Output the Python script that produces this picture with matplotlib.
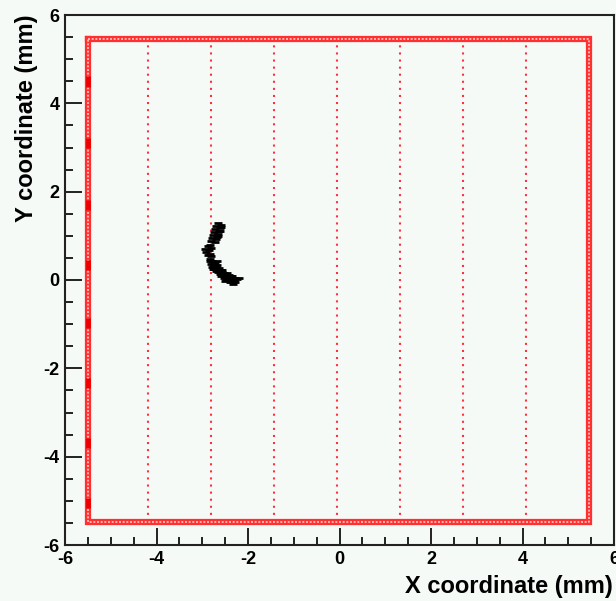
import matplotlib
matplotlib.use("Agg")
import matplotlib.pyplot as plt
from matplotlib.ticker import MultipleLocator

# Borde del detector (mm)
borde_x = [-5.49, 5.46, 5.46, -5.49, -5.49]
borde_y = [5.46, 5.46, -5.47, -5.47, 5.46]

# Lineas punteadas verticales (mm)
lineas_x = [-4.18, -2.80, -1.43, -0.05, 1.32, 2.70, 4.07]

# Segmentos oscuros en el borde izquierdo (centros en y)
segmentos_y = [4.49, 3.10, 1.70, 0.34, -0.97, -2.33, -3.69, -5.05]

# Puntos negros (trayectoria)
puntos_x = [-2.66, -2.60, -2.70, -2.62, -2.72, -2.64, -2.74, -2.66, -2.76, -2.68,
            -2.78, -2.70, -2.80, -2.72, -2.58, -2.62, -2.66,
            -2.82, -2.88, -2.80, -2.86, -2.92, -2.84, -2.88, -2.80, -2.95,
            -2.82, -2.78, -2.84, -2.76, -2.72, -2.80, -2.74, -2.68, -2.78, -2.70,
            -2.64, -2.74, -2.66, -2.60, -2.70, -2.62, -2.56, -2.66, -2.58, -2.52,
            -2.62, -2.54, -2.48, -2.42, -2.58, -2.50, -2.44, -2.38, -2.52, -2.46,
            -2.40, -2.34, -2.28, -2.48, -2.42, -2.36, -2.30, -2.24, -2.40, -2.34,
            -2.28, -2.20, -2.56, -2.46, -2.36, -2.68, -2.76, -2.50, -2.32]
puntos_y = [1.28, 1.25, 1.22, 1.18, 1.15, 1.12, 1.08, 1.05, 1.02, 0.98,
            0.95, 0.92, 0.88, 0.85, 1.20, 1.10, 1.00,
            0.80, 0.76, 0.72, 0.68, 0.64, 0.60, 0.56, 0.54, 0.70,
            0.48, 0.44, 0.42, 0.40, 0.38, 0.36, 0.34, 0.33, 0.30, 0.29,
            0.28, 0.26, 0.24, 0.23, 0.21, 0.20, 0.19, 0.17, 0.16, 0.15,
            0.13, 0.12, 0.11, 0.12, 0.09, 0.08, 0.07, 0.08, 0.05, 0.04,
            0.03, 0.04, 0.05, 0.01, 0.00, -0.01, 0.00, 0.02, -0.04, -0.05,
            -0.04, 0.04, 0.22, 0.16, 0.10, 0.42, 0.26, -0.02, -0.08]

fondo = '#f6faf7'
plt.rcParams['font.family'] = ['Liberation Sans', 'DejaVu Sans']
plt.rcParams['font.weight'] = 'bold'
plt.rcParams['axes.unicode_minus'] = False

fig = plt.figure(figsize=(6.16, 6.01), dpi=100, facecolor=fondo)
ax = fig.add_axes([65 / 616, 56 / 601, 549 / 616, 530 / 601], facecolor=fondo)

# lineas punteadas
for xv in lineas_x:
    ax.plot([xv, xv], [borde_y[2], borde_y[0]], color='#ff3040', lw=1.5,
            linestyle=(0, (1, 2.4)), zorder=2)

# borde
ax.plot(borde_x, borde_y, color='#ff3030', lw=4.5, solid_joinstyle='miter', zorder=3)
ax.plot(borde_x, borde_y, color='#ffc8c8', lw=1.2, linestyle=(0, (1.2, 1.0)), zorder=4)
for yc in segmentos_y:
    ax.plot([borde_x[0], borde_x[0]], [yc - 0.12, yc + 0.12], color='#ee0000',
            lw=3.5, solid_capstyle='butt', zorder=5)

# trayectoria
ax.plot(puntos_x, puntos_y, linestyle='none', marker='_', markersize=6,
        markeredgewidth=2, color='black', zorder=6)

ax.set_xlim(-6, 6)
ax.set_ylim(-6, 6)
ax.xaxis.set_major_locator(MultipleLocator(2))
ax.xaxis.set_minor_locator(MultipleLocator(0.5))
ax.yaxis.set_major_locator(MultipleLocator(2))
ax.yaxis.set_minor_locator(MultipleLocator(0.5))
ax.tick_params(which='both', direction='in', top=False, right=False,
               width=1.4, color='#222222', labelsize=13)
ax.tick_params(which='major', length=12)
ax.tick_params(which='minor', length=6)
ax.tick_params(axis='x', pad=4)
ax.tick_params(axis='y', pad=4)
for lab in ax.get_xticklabels() + ax.get_yticklabels():
    lab.set_fontweight('bold')
for s in ax.spines.values():
    s.set_linewidth(1.5)
    s.set_color('#222222')

fig.text(613 / 616, 1 - 586 / 601, 'X coordinate (mm)', ha='right', va='center',
         fontsize=17, fontweight='bold')
fig.text(27 / 616, 1 - 14 / 601, 'Y coordinate (mm)', ha='center', va='top',
         rotation=90, fontsize=17, fontweight='bold')

fig.savefig('out.png', dpi=100, facecolor=fondo)
